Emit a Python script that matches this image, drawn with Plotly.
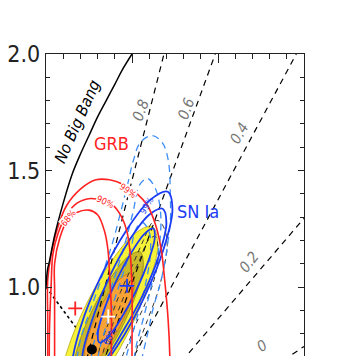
import plotly.graph_objects as go

# ---------------- data (Omega_M, Omega_Lambda) ----------------
# "No Big Bang" boundary
nbb_m = [0.0, 0.005, 0.01, 0.02, 0.05, 0.10, 0.15, 0.20, 0.25, 0.30, 0.35, 0.40, 0.45, 0.50]
nbb_l = [1.00, 1.05, 1.08, 1.11, 1.22, 1.36, 1.48, 1.57, 1.65, 1.73, 1.80, 1.87, 1.94, 2.00]

# flat universe (dotted)
flat_m = [0.0, 0.4]
flat_l = [1.0, 0.6]

# dashed lines of constant transition redshift (from the origin to these end points)
zt_labels = ["0.8", "0.6", "0.4", "0.2", "0"]
zt_end_m = [0.686, 0.984, 1.455, 1.5, 1.5]
zt_end_l = [2.0, 2.0, 2.0, 1.295, 0.745]
zt_lab_m = [0.548, 0.813, 1.127, 1.180, 1.256]
zt_lab_l = [1.757, 1.766, 1.659, 1.109, 0.745]
zt_lab_ang = [-70, -70, -60, -52, -34]

# GRB contours (red)
grb68_m = [0.05, 0.05, 0.05, 0.05, 0.08, 0.12, 0.18, 0.25, 0.30, 0.34, 0.36, 0.37, 0.38, 0.38, 0.38]
grb68_l = [0.51, 0.81, 0.99, 1.10, 1.21, 1.28, 1.32, 1.33, 1.31, 1.24, 1.16, 1.05, 0.90, 0.70, 0.51]
grb90_m = [0.02, 0.02, 0.03, 0.04, 0.07, 0.12, 0.18, 0.26, 0.33, 0.39, 0.44, 0.47, 0.49, 0.50, 0.50, 0.50]
grb90_l = [0.51, 0.81, 1.01, 1.14, 1.23, 1.31, 1.36, 1.38, 1.37, 1.35, 1.30, 1.24, 1.14, 0.99, 0.70, 0.51]
grb99_m = [0.01, 0.01, 0.01, 0.03, 0.07, 0.12, 0.20, 0.29, 0.37, 0.45, 0.53, 0.59, 0.64, 0.67, 0.69, 0.71, 0.72, 0.72]
grb99_l = [0.51, 0.86, 1.03, 1.14, 1.26, 1.35, 1.42, 1.46, 1.46, 1.44, 1.40, 1.35, 1.26, 1.16, 1.03, 0.86, 0.70, 0.51]

# combined filled contours
c99_m = [0.493, 0.348, 0.206, 0.106, 0.076, 0.121, 0.231, 0.377, 0.519, 0.618, 0.649, 0.603, 0.493]
c99_l = [0.826, 0.639, 0.515, 0.487, 0.563, 0.721, 0.921, 1.107, 1.231, 1.260, 1.184, 1.026, 0.826]
c90_m = [0.451, 0.347, 0.248, 0.178, 0.159, 0.193, 0.273, 0.377, 0.477, 0.547, 0.566, 0.531, 0.451]
c90_l = [0.841, 0.706, 0.617, 0.595, 0.649, 0.762, 0.906, 1.040, 1.130, 1.151, 1.098, 0.985, 0.841]
c68_m = [0.436, 0.363, 0.291, 0.240, 0.223, 0.245, 0.300, 0.373, 0.445, 0.496, 0.513, 0.491, 0.436]
c68_l = [0.840, 0.747, 0.685, 0.672, 0.710, 0.789, 0.889, 0.982, 1.044, 1.058, 1.020, 0.940, 0.840]

# SN Ia contours (solid blue)
sn68_m = [0.525, 0.438, 0.360, 0.310, 0.302, 0.338, 0.409, 0.495, 0.574, 0.624, 0.632, 0.595, 0.525]
sn68_l = [0.986, 0.867, 0.784, 0.762, 0.805, 0.902, 1.027, 1.146, 1.229, 1.251, 1.208, 1.111, 0.986]
sn90_m = [0.567, 0.448, 0.316, 0.240, 0.211, 0.274, 0.367, 0.486, 0.600, 0.678, 0.700, 0.659, 0.567]
sn90_l = [0.972, 0.811, 0.663, 0.633, 0.693, 0.871, 1.041, 1.202, 1.310, 1.336, 1.275, 1.141, 0.972]
sn99_m = [0.570, 0.421, 0.278, 0.180, 0.152, 0.202, 0.317, 0.466, 0.609, 0.708, 0.735, 0.685, 0.570]
sn99_l = [0.954, 0.754, 0.619, 0.586, 0.663, 0.830, 1.042, 1.242, 1.376, 1.409, 1.333, 1.166, 0.954]

# second SN sample (light blue dashed)
lb99_m = [0.170, 0.199, 0.246, 0.298, 0.345, 0.391, 0.432, 0.473, 0.508, 0.548, 0.618, 0.676, 0.711,
          0.723, 0.723, 0.706, 0.682, 0.653, 0.624, 0.595, 0.560, 0.542]
lb99_l = [0.642, 0.770, 0.878, 0.985, 1.092, 1.200, 1.315, 1.436, 1.543, 1.620, 1.650, 1.620, 1.543,
          1.384, 1.285, 1.178, 1.071, 0.985, 0.912, 0.813, 0.702, 0.642]
lb90_m = [0.252, 0.275, 0.322, 0.374, 0.420, 0.467, 0.508, 0.542, 0.589, 0.636, 0.665, 0.665, 0.641,
          0.606, 0.566, 0.525, 0.502]
lb90_l = [0.642, 0.749, 0.865, 0.985, 1.092, 1.208, 1.328, 1.436, 1.466, 1.423, 1.328, 1.221, 1.105,
          0.985, 0.865, 0.749, 0.642]
lb68_m = [0.292, 0.310, 0.351, 0.397, 0.444, 0.490, 0.525, 0.560, 0.601, 0.606, 0.583, 0.548, 0.508, 0.467, 0.449]
lb68_l = [0.642, 0.727, 0.835, 0.942, 1.049, 1.157, 1.251, 1.277, 1.234, 1.135, 1.028, 0.920, 0.813, 0.702, 0.642]

# other sample (black dashed)
bd1_m = [0.327, 0.327, 0.374, 0.432, 0.490, 0.548, 0.594, 0.635, 0.653, 0.647, 0.618, 0.577, 0.519, 0.473, 0.444, 0.432]
bd1_l = [0.642, 0.702, 0.813, 0.920, 1.028, 1.122, 1.200, 1.217, 1.165, 1.092, 1.006, 0.929, 0.835, 0.749, 0.702, 0.642]
bd2_m = [0.287, 0.316, 0.374, 0.432, 0.502, 0.566, 0.618, 0.653, 0.688, 0.705, 0.688, 0.653, 0.589, 0.525, 0.502]
bd2_l = [0.642, 0.749, 0.865, 0.976, 1.092, 1.200, 1.277, 1.285, 1.251, 1.178, 1.092, 0.985, 0.856, 0.727, 0.642]

# best fits
grb_best = (0.170, 0.908)
sn_best = (0.471, 1.005)
comb_best = (0.362, 0.873)
concord = (0.267, 0.732)

# ---------------- styles ----------------
FONT = "Liberation Sans Narrow, Arial Narrow, DejaVu Sans Condensed, Liberation Sans, Arial"
RED = "#ff2222"
BLUE = "#1a3cf5"
LBLUE = "#3d8cf5"
YEL = "#f6f23a"
OLIVE = "#c8b82a"
ORANGE = "#f7a234"

fig = go.Figure()


def add_line(m, l, color, width, dash="solid", fill=None, fillcolor=None, shape="spline"):
    fig.add_trace(go.Scatter(
        x=m, y=l, mode="lines",
        line=dict(color=color, width=width, dash=dash, shape=shape, smoothing=1.0),
        fill=fill, fillcolor=fillcolor, hoverinfo="skip", showlegend=False))


add_line(flat_m, flat_l, "black", 1.6, dash="dot", shape="linear")

add_line(c99_m, c99_l, "#b8aa10", 0.8, fill="toself", fillcolor=YEL)
add_line(c90_m, c90_l, "#8f8410", 0.8, fill="toself", fillcolor=OLIVE)
add_line(c68_m, c68_l, "#c07010", 0.8, fill="toself", fillcolor=ORANGE)

for em, el in zip(zt_end_m, zt_end_l):
    add_line([0.0, em], [0.0, el], "black", 1.2, dash="6px,5px", shape="linear")

add_line(bd1_m, bd1_l, "#333333", 1.0, dash="5px,4px")
add_line(bd2_m, bd2_l, "#333333", 1.0, dash="5px,4px")

for m, l in [(lb99_m, lb99_l), (lb90_m, lb90_l), (lb68_m, lb68_l)]:
    add_line(m, l, LBLUE, 1.3, dash="7px,5px")

for m, l in [(sn99_m, sn99_l), (sn90_m, sn90_l), (sn68_m, sn68_l)]:
    add_line(m, l, BLUE, 1.8)

for m, l in [(grb99_m, grb99_l), (grb90_m, grb90_l), (grb68_m, grb68_l)]:
    add_line(m, l, RED, 1.6)

add_line(nbb_m, nbb_l, "black", 1.5)

for (pm, pl), col in [(grb_best, RED), (sn_best, BLUE), (comb_best, "white")]:
    fig.add_trace(go.Scatter(x=[pm], y=[pl], mode="markers",
                             marker=dict(symbol="cross-thin", size=10, line=dict(color=col, width=1.8)),
                             hoverinfo="skip", showlegend=False))
fig.add_trace(go.Scatter(x=[concord[0]], y=[concord[1]], mode="markers",
                         marker=dict(symbol="circle", size=10, color="black"),
                         hoverinfo="skip", showlegend=False))

# ---------------- text ----------------
ann = []
for t, m, l, a in zip(zt_labels, zt_lab_m, zt_lab_l, zt_lab_ang):
    ann.append(dict(x=m, y=l, text="<i>" + t + "</i>", textangle=a, showarrow=False,
                    font=dict(family=FONT, size=15, color="#777777")))
ann.append(dict(x=0.182, y=1.710, text="<i>No Big Bang</i>", textangle=-66, showarrow=False,
                font=dict(family=FONT, size=16, color="black")))
ann.append(dict(x=0.378, y=1.618, text="GRB", showarrow=False,
                font=dict(family=FONT, size=18, color=RED)))
ann.append(dict(x=0.885, y=1.326, text="SN Ia", showarrow=False,
                font=dict(family=FONT, size=18, color=BLUE)))
for t, m, l, a in [("68%", 0.130, 1.298, -50), ("90%", 0.345, 1.363, 25), ("99%", 0.478, 1.414, 35)]:
    ann.append(dict(x=m, y=l, text=t, textangle=a, showarrow=False, bgcolor="white", borderpad=0,
                    font=dict(family=FONT, size=9, color=RED)))
for t, m, l, a in [("99%", 0.589, 1.350, -60), ("68%", 0.374, 0.788, -60)]:
    ann.append(dict(x=m, y=l, text=t, textangle=a, showarrow=False,
                    font=dict(family=FONT, size=9, color=BLUE)))

# the page body has an 8px margin, so the figure is offset by (8, 8) in the window
fig.update_layout(
    width=337, height=356,
    margin=dict(l=38, r=41, t=46, b=8, autoexpand=False),
    paper_bgcolor="white", plot_bgcolor="white",
    annotations=ann,
    xaxis=dict(range=[0, 1.5], side="top", showline=True, linecolor="#222", linewidth=1.4,
               ticks="inside", tick0=0, dtick=0.5, ticklen=9, tickwidth=1, tickcolor="#222",
               minor=dict(ticks="inside", dtick=0.1, ticklen=5, tickwidth=1, tickcolor="#222"),
               showticklabels=False, showgrid=False, zeroline=False, automargin=False),
    yaxis=dict(range=[0.704, 2.0], showline=True, mirror="ticks", linecolor="#222", linewidth=1.4,
               ticks="inside", tick0=0, dtick=0.5, ticklen=6, tickwidth=1, tickcolor="#222",
               minor=dict(ticks="inside", dtick=0.1, ticklen=4, tickwidth=1, tickcolor="#222"),
               tickformat=".1f", tickfont=dict(family=FONT, size=23, color="#222"),
               showgrid=False, zeroline=False, automargin=False),
)

fig.write_html("out.html")
